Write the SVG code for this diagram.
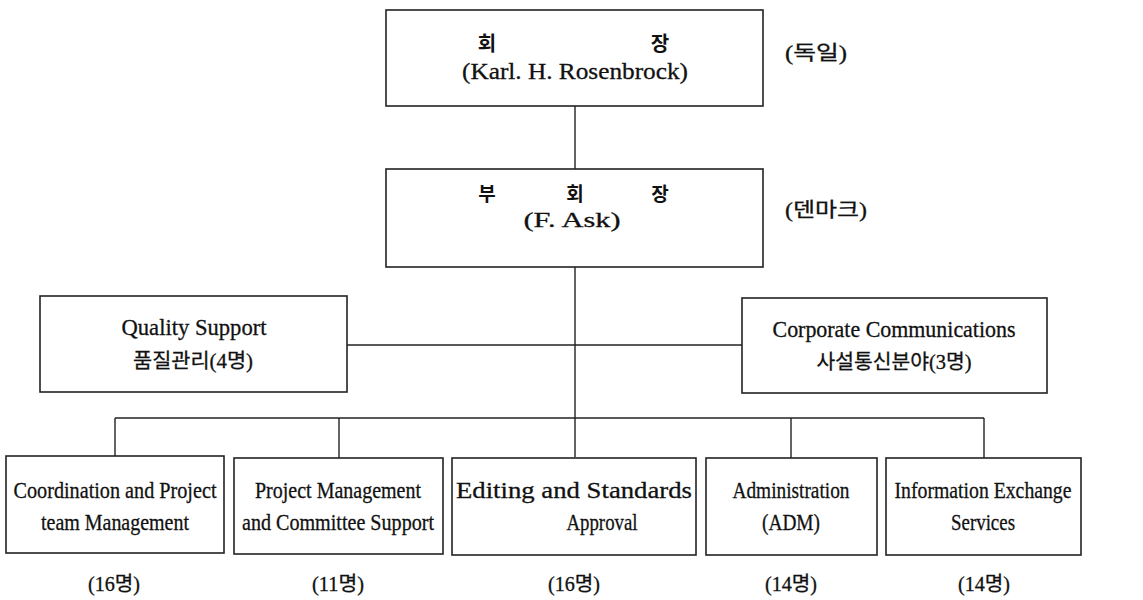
<svg xmlns="http://www.w3.org/2000/svg" width="1143" height="600" viewBox="0 0 1143 600">
<style>
.box{fill:#fff;stroke:#222;stroke-width:1.6}
.ln{stroke:#222;stroke-width:1.4;fill:none}
.en{font-family:"Liberation Serif","Times New Roman",serif;font-size:24px;fill:#111;stroke:#111;stroke-width:0.3;text-anchor:middle}
.mx{font-family:"Liberation Serif","Noto Sans CJK KR",serif;font-size:20px;fill:#111;stroke:#111;stroke-width:0.3;text-anchor:middle}
.kb{font-family:"Noto Sans CJK KR","Noto Sans",sans-serif;font-size:20px;font-weight:bold;fill:#111;text-anchor:middle}
</style>
<rect width="1143" height="600" fill="#fff"/>
<g id="connectors">
<line class="ln" x1="575" y1="106" x2="575" y2="169"/>
<line class="ln" x1="575" y1="267" x2="575" y2="457"/>
<line class="ln" x1="347" y1="345" x2="742" y2="345"/>
<line class="ln" x1="115" y1="418" x2="984" y2="418"/>
<line class="ln" x1="115" y1="418" x2="115" y2="456"/>
<line class="ln" x1="339" y1="418" x2="339" y2="458"/>
<line class="ln" x1="791" y1="418" x2="791" y2="458"/>
<line class="ln" x1="984" y1="418" x2="984" y2="458"/>
</g>
<g id="president">
<rect class="box" x="386" y="10" width="377" height="96"/>
<text class="kb" x="487" y="51">회</text>
<text class="kb" x="660" y="51">장</text>
<text class="en" x="575" y="79" textLength="226" lengthAdjust="spacingAndGlyphs">(Karl. H. Rosenbrock)</text>
<text class="mx" x="816" y="60" textLength="62" lengthAdjust="spacingAndGlyphs">(독일)</text>
</g>
<g id="vice-president">
<rect class="box" x="386" y="169" width="377" height="98"/>
<text class="kb" x="487" y="201" style="font-size:19px">부</text>
<text class="kb" x="575" y="201" style="font-size:19px">회</text>
<text class="kb" x="660" y="201" style="font-size:19px">장</text>
<text class="en" x="572" y="227" style="font-size:22px" textLength="97" lengthAdjust="spacingAndGlyphs">(F. Ask)</text>
<text class="mx" x="826" y="217" textLength="82" lengthAdjust="spacingAndGlyphs">(덴마크)</text>
</g>
<g id="quality-support">
<rect class="box" x="40" y="296" width="307" height="96"/>
<text class="en" x="194" y="335" textLength="145" lengthAdjust="spacingAndGlyphs">Quality Support</text>
<text class="mx" x="193" y="368" textLength="120" lengthAdjust="spacingAndGlyphs">품질관리(4명)</text>
</g>
<g id="corporate-communications">
<rect class="box" x="742" y="298" width="305" height="95"/>
<text class="en" x="894" y="337" textLength="243" lengthAdjust="spacingAndGlyphs">Corporate Communications</text>
<text class="mx" x="894" y="369" textLength="155" lengthAdjust="spacingAndGlyphs">사설통신분야(3명)</text>
</g>
<g id="coordination">
<rect class="box" x="6" y="456" width="218" height="97"/>
<text class="en" x="115" y="498" textLength="203" lengthAdjust="spacingAndGlyphs">Coordination and Project</text>
<text class="en" x="115" y="530" textLength="148" lengthAdjust="spacingAndGlyphs">team Management</text>
<text class="mx" x="114" y="591" textLength="52" lengthAdjust="spacingAndGlyphs">(16명)</text>
</g>
<g id="project-management">
<rect class="box" x="234" y="458" width="209" height="96"/>
<text class="en" x="338" y="498" textLength="166" lengthAdjust="spacingAndGlyphs">Project Management</text>
<text class="en" x="338" y="530" textLength="192" lengthAdjust="spacingAndGlyphs">and Committee Support</text>
<text class="mx" x="338" y="591" textLength="52" lengthAdjust="spacingAndGlyphs">(11명)</text>
</g>
<g id="editing">
<rect class="box" x="452" y="458" width="244" height="97"/>
<text class="en" x="574" y="498" textLength="236" lengthAdjust="spacingAndGlyphs">Editing and Standards</text>
<text class="en" x="602" y="530" textLength="71" lengthAdjust="spacingAndGlyphs">Approval</text>
<text class="mx" x="574" y="591" textLength="52" lengthAdjust="spacingAndGlyphs">(16명)</text>
</g>
<g id="administration">
<rect class="box" x="706" y="458" width="171" height="97"/>
<text class="en" x="791" y="498" textLength="117" lengthAdjust="spacingAndGlyphs">Administration</text>
<text class="en" x="791" y="530" textLength="58" lengthAdjust="spacingAndGlyphs">(ADM)</text>
<text class="mx" x="791" y="591" textLength="52" lengthAdjust="spacingAndGlyphs">(14명)</text>
</g>
<g id="information-exchange">
<rect class="box" x="886" y="458" width="195" height="97"/>
<text class="en" x="983" y="498" textLength="177" lengthAdjust="spacingAndGlyphs">Information Exchange</text>
<text class="en" x="983" y="530" textLength="64" lengthAdjust="spacingAndGlyphs">Services</text>
<text class="mx" x="984" y="591" textLength="52" lengthAdjust="spacingAndGlyphs">(14명)</text>
</g>
</svg>
